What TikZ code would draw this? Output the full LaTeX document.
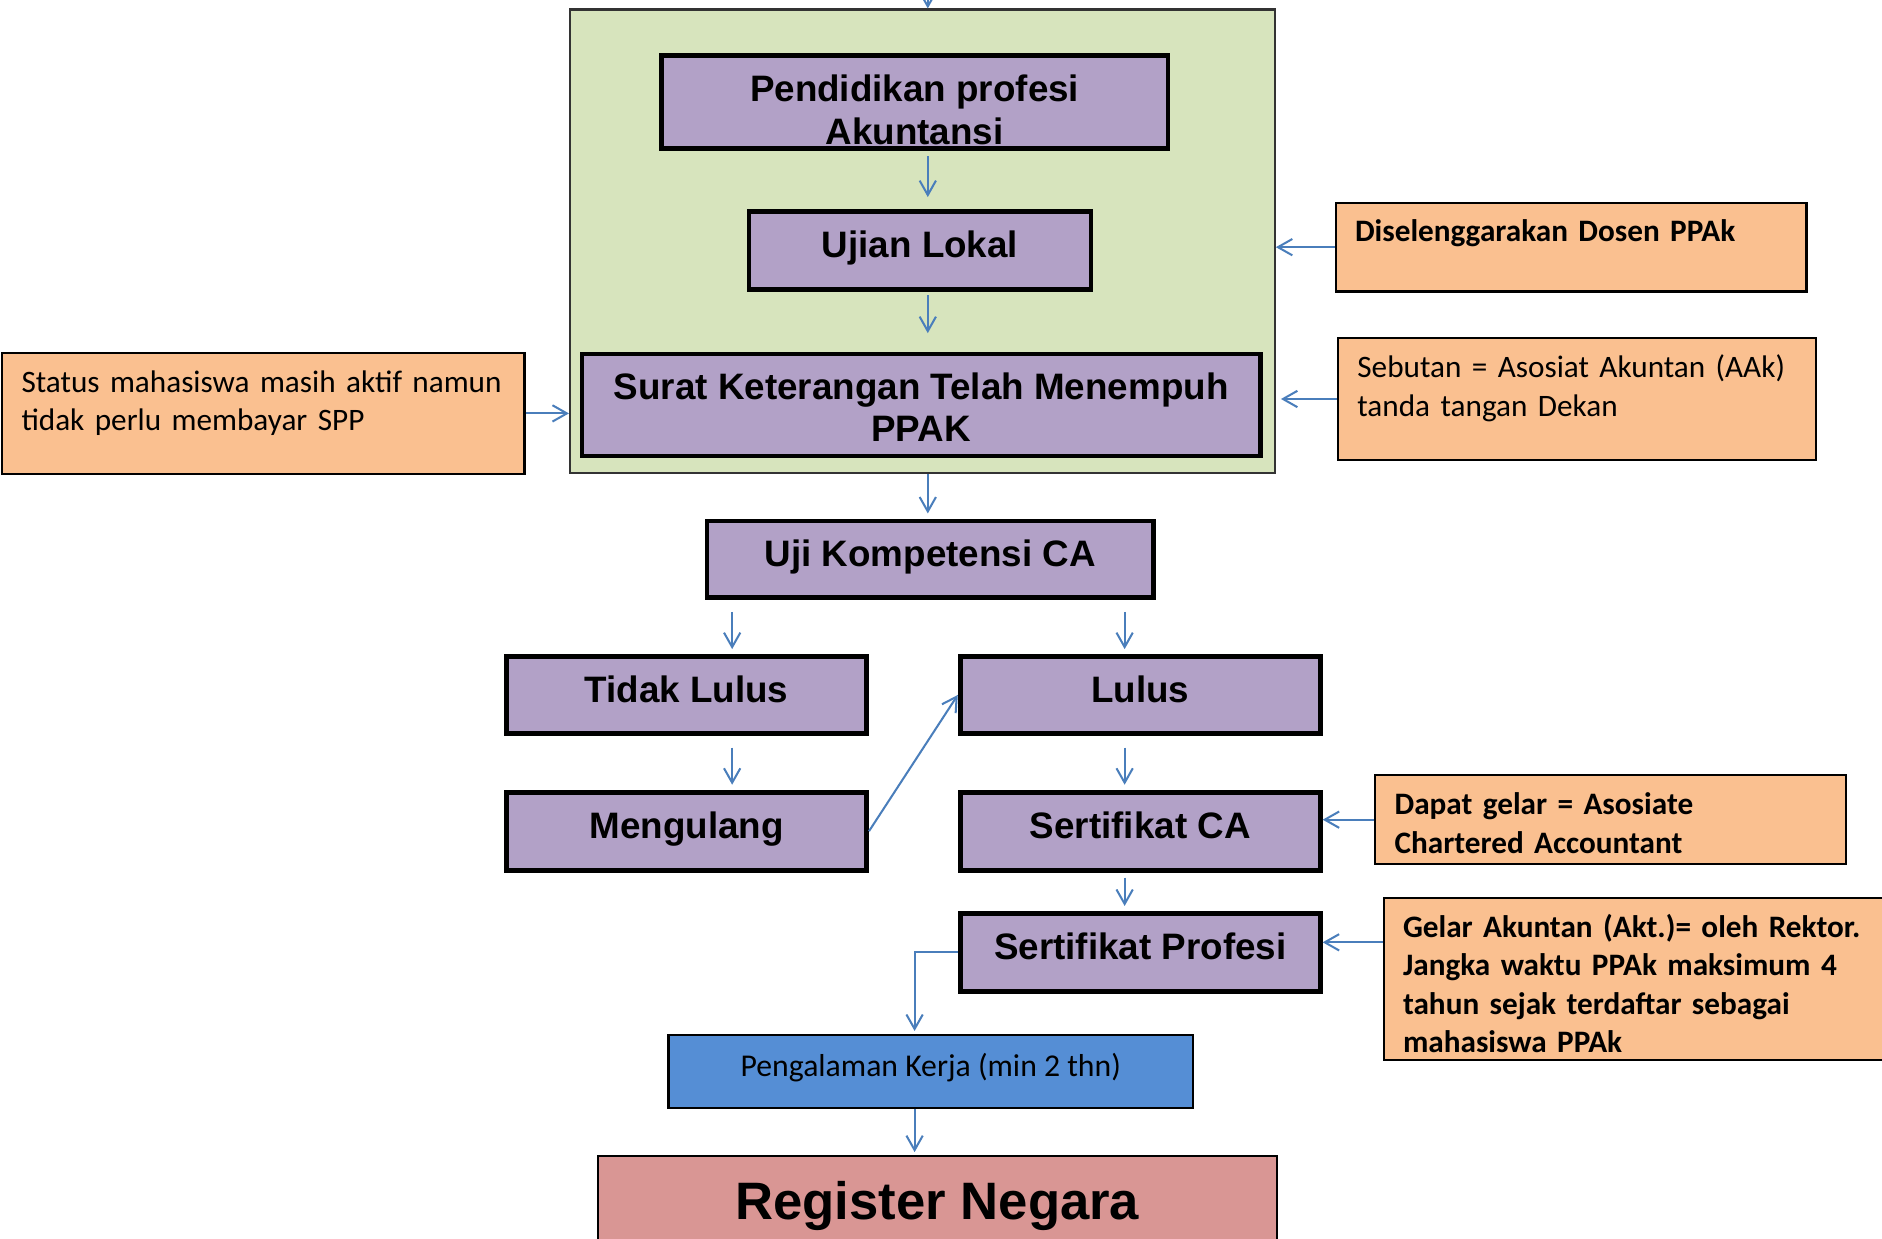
\documentclass[tikz,border=0pt]{standalone}
\usepackage{fontspec}
\setmainfont{Liberation Sans}
\newfontfamily\catatanfont{Carlito}
\usetikzlibrary{arrows.meta}
\definecolor{ungu}{HTML}{B2A1C7}
\definecolor{oranye}{HTML}{FAC090}
\definecolor{hijau}{HTML}{D7E4BD}
\definecolor{biru}{HTML}{558ED5}
\definecolor{merah}{HTML}{D99694}
\definecolor{garis}{HTML}{4A7EBB}
\tikzset{
>={Straight Barb[length=3mm,width=3.4mm]},
  proses/.style={
    rectangle,
    fill=ungu,
    draw=black, line width=2.8pt,
    inner ysep=1pt,
    align=center,
    font=\bfseries\fontsize{21.8}{25}\selectfont},
  satubaris/.style={text height=0.6cm, text depth=0.3cm},
  catatan/.style={
    rectangle,
    anchor=north west,
    fill=oranye,
    draw=black, line width=1.3pt,
    inner xsep=0.4cm, inner ysep=0pt,
    align=left,
    font=\catatanfont\fontsize{18.5}{22.8}\selectfont},
  catatantebal/.style={catatan,
    font=\catatanfont\bfseries\fontsize{18.5}{22.8}\selectfont},
  panah/.style={draw=garis, line width=1.2pt, ->},
}
\begin{document}
\begin{tikzpicture}[x=0.025cm, y=-0.025cm]
     \clip (0,0) rectangle (1568,1032);
     % blok PPAk
     \node[fill=hijau, draw=black!80, line width=1.3pt, minimum width=14.675cm, minimum height=9.65cm] (PPAkBlok) at (768.5,201) {};
     \node[proses, minimum width=10.55cm, minimum height=1.95cm, text height=1.815cm, text depth=0.065cm] (Pendidikan) at (762,85) {Pendidikan profesi\\Akuntansi};
     \node[proses, satubaris, minimum width=7.125cm, minimum height=1.625cm] (Ujian) at (766.5,208.5) {Ujian Lokal};
     \node[proses, minimum width=14.125cm, minimum height=2.125cm, text height=1.79cm, text depth=0.265cm] (Surat) at (767.5,337.5) {Surat Keterangan Telah Menempuh\\PPAK};
     % uji kompetensi
     \node[proses, satubaris, minimum width=9.3cm, minimum height=1.6cm] (Uji) at (775,466) {Uji Kompetensi CA};
     \node[proses, satubaris, minimum width=7.5cm, minimum height=1.6cm] (Tidak) at (572,579) {Tidak Lulus};
     \node[proses, satubaris, minimum width=7.5cm, minimum height=1.6cm] (Lulus) at (950,579) {Lulus};
     \node[proses, satubaris, minimum width=7.5cm, minimum height=1.625cm] (Mengulang) at (572,692.5) {Mengulang};
     \node[proses, satubaris, minimum width=7.5cm, minimum height=1.625cm] (SertCA) at (950,692.5) {Sertifikat CA};
     \node[proses, satubaris, minimum width=7.5cm, minimum height=1.625cm] (SertProfesi) at (950,793.5) {Sertifikat Profesi};
     \node[fill=biru, draw=black, line width=1.3pt, minimum width=10.925cm, minimum height=1.525cm, text height=0.45cm, text depth=0.25cm,
           font=\catatanfont\fontsize{18.8}{22.8}\selectfont] (Pengalaman) at (775.5,892.5) {Pengalaman Kerja (min 2 thn)};
     \node[fill=merah, draw=black, line width=1.3pt, anchor=north west, inner ysep=0pt, minimum width=14.15cm, text height=1.325cm, text depth=0.75cm,
           font=\bfseries\fontsize{31.2}{36}\selectfont] (Register) at (497,962) {Register Negara};
     % catatan
     \node[catatan, text width=10.075cm, text height=0.825cm, text depth=1.7cm] (Status) at (1,293) {Status mahasiswa masih aktif namun\\tidak perlu membayar SPP};
     \node[catatantebal, text width=9cm, text height=0.8cm, text depth=1.05cm] (Dosen) at (1112,168) {Diselenggarakan Dosen PPAk};
     \node[catatan, text width=9.15cm, text height=0.825cm, text depth=1.7cm] (Sebutan) at (1114,281) {Sebutan = Asosiat Akuntan (AAk)\\tanda tangan Dekan};
     \node[catatantebal, text width=9cm, text height=0.825cm, text depth=1.025cm] (Dapat) at (1145,645) {Dapat gelar = Asosiate\\Chartered Accountant};
     \node[catatantebal, text width=9.825cm, text height=0.825cm, text depth=2.55cm] (Gelar) at (1152,747) {Gelar Akuntan (Akt.)= oleh Rektor.\\Jangka waktu PPAk maksimum 4\\tahun sejak terdaftar sebagai\\mahasiswa PPAk};
     % jalur panah
     \coordinate (Masuk) at (773,0);
     \coordinate (JalurKiri) at (610,0);
     \coordinate (JalurKanan) at (937,0);
     \coordinate (JalurBawah) at (762,0);
     \coordinate (GelarPanah) at ([yshift=0.21cm]SertProfesi.east);
     \draw[panah] (Masuk) -- (Masuk |- PPAkBlok.north);
     \draw[panah, shorten <=3pt, shorten >=7pt] (Pendidikan.south -| Masuk) -- (Ujian.north -| Masuk);
     \draw[panah, shorten <=2pt, shorten >=11pt] (Ujian.south -| Masuk) -- (Surat.north -| Masuk);
     \draw[panah, shorten >=3pt] (PPAkBlok.south -| Masuk) -- (Uji.north -| Masuk);
     \draw[panah, shorten <=7pt, shorten >=3pt] (Uji.south -| JalurKiri) -- (Tidak.north -| JalurKiri);
     \draw[panah, shorten <=7pt, shorten >=3pt] (Uji.south -| JalurKanan) -- (Lulus.north -| JalurKanan);
     \draw[panah, shorten <=7pt, shorten >=3pt] (Tidak.south -| JalurKiri) -- (Mengulang.north -| JalurKiri);
     \draw[panah, shorten <=7pt, shorten >=3pt] (Lulus.south -| JalurKanan) -- (SertCA.north -| JalurKanan);
     \draw[panah, shorten <=3pt, shorten >=3pt] (SertCA.south -| JalurKanan) -- (SertProfesi.north -| JalurKanan);
     \draw[panah] (Mengulang.east) -- (Lulus.west);
     \draw[panah, shorten >=1.5pt] (SertProfesi.west) -| (JalurBawah |- Pengalaman.north);
     \draw[panah, shorten >=1.5pt] (JalurBawah |- Pengalaman.south) -- (JalurBawah |- Register.north);
     \draw[panah] (Status.east) -- (Status.east -| PPAkBlok.west);
     \draw[panah] (Dosen.west) -- (Dosen.west -| PPAkBlok.east);
     \draw[panah, shorten >=3pt] (Sebutan.west) -- (Sebutan.west -| PPAkBlok.east);
     \draw[panah] (Dapat.west) -- (Dapat.west -| SertCA.east);
     \draw[panah] (Gelar.west |- GelarPanah) -- (GelarPanah);
\end{tikzpicture}
\end{document}
